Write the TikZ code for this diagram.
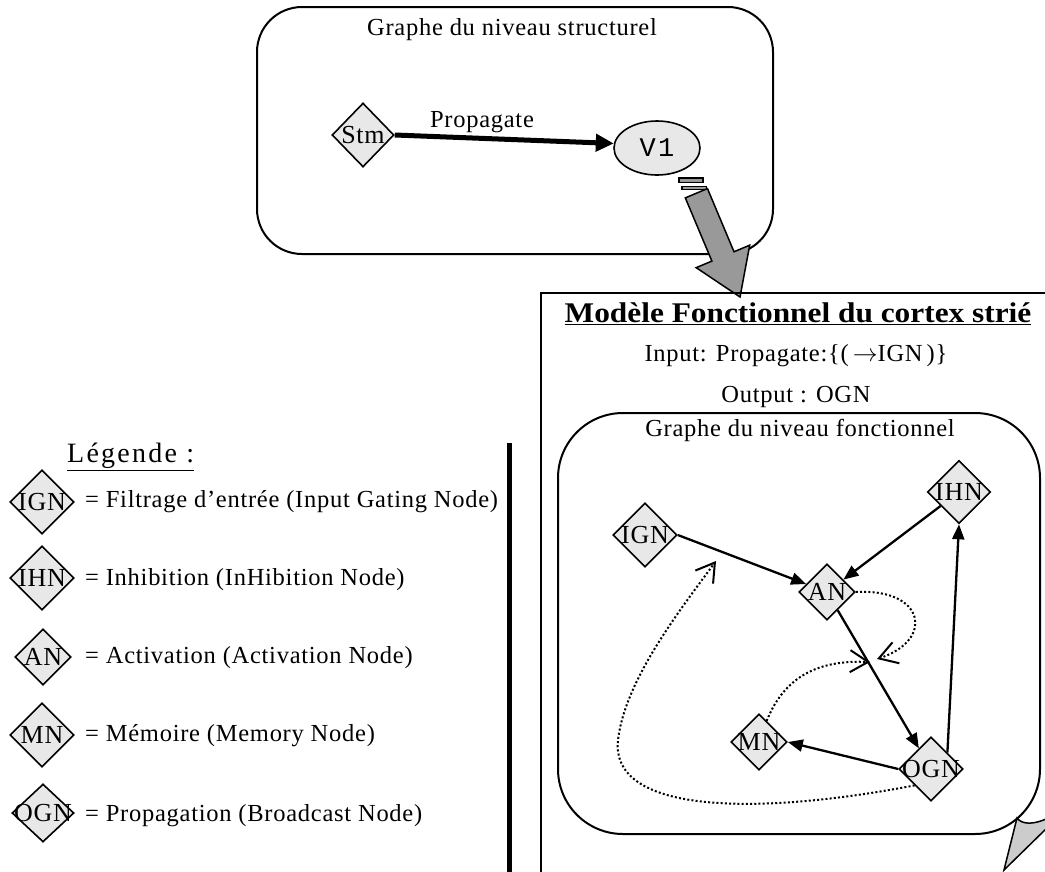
\documentclass[tikz,border=0pt]{standalone}
\usepackage{fontspec}
\usepackage{graphicx}
\setmainfont{Liberation Serif}
\newfontfamily\spc{Liberation Serif}[LetterSpace=3]
\newfontfamily\wspc{Liberation Serif}[LetterSpace=8]
\newfontfamily\monof{Liberation Mono}[LetterSpace=8]
\usetikzlibrary{shapes.geometric,arrows.meta}
\definecolor{nodefill}{RGB}{232,232,232}
\definecolor{arrowgrey}{RGB}{153,153,153}
\definecolor{tailgrey}{RGB}{204,204,204}
\newcommand\dl[1]{\makebox[0pt]{#1}}
\tikzset{
  dia/.style={diamond,draw,fill=nodefill,line width=1.6pt,inner sep=0pt,minimum size=64pt,
              font=\spc\fontsize{26}{26}\selectfont},
  lt/.style={inner sep=1pt,font=\spc\fontsize{24.5}{27}\selectfont},
  edge/.style={line width=2.3pt,-{Triangle[length=15pt,width=12pt]}},
  dots/.style={line width=2pt,dash pattern=on 2pt off 2.2pt,
               -{Straight Barb[length=18pt,width=22pt,line width=2pt]}},
  frame/.style={line width=2pt}
}
\begin{document}
\begin{tikzpicture}[x=1pt,y=-1pt]
\clip (0,0) rectangle (1045,871);
\fill[white] (0,0) rectangle (1045,871);

% ---------- top structural graph ----------
\draw[frame,rounded corners=45pt] (257,7) rectangle (773,254);
\node[lt] (t1) at (512,30) {Graphe du niveau structurel};
\node[dia,minimum width=62pt,minimum height=64pt] (Stm) at (363,135) {\dl{Stm}};
\node[ellipse,draw,fill=nodefill,line width=1.6pt,minimum width=86pt,minimum height=54pt,
      inner sep=0pt,font=\monof\fontsize{27}{28}\selectfont] (V1) at (657,148) {\dl{V1}};
\draw[line width=5pt,-{Triangle[length=18pt,width=17pt]}] (Stm.east) -- (V1.174);
\node[lt] (lbl) at (482,122) {Propagate};

% ---------- big grey arrow ----------
\begin{scope}[shift={(690,178)},x={(0.3876pt,-0.9225pt)},y={(0.9225pt,0.3876pt)}]
  \filldraw[fill=arrowgrey,line width=1.5pt] (0,-12) rectangle (5,12);
  \filldraw[fill=arrowgrey,line width=1.5pt] (7.5,-12) rectangle (14,12);
  \filldraw[fill=arrowgrey,line width=1.5pt,line join=miter]
    (16.5,-12) -- (85,-12) -- (85,-29) -- (129,0) -- (85,29) -- (85,12) -- (16.5,12) -- cycle;
\end{scope}

% ---------- functional model frame ----------
\draw[frame] (541,293) rectangle (1080,900);
\node[font=\bfseries\fontsize{28.5}{30}\selectfont] (mt) at (798,314)
  {\scalebox{1.1}[1]{\underline{Modèle Fonctionnel du cortex strié}}};
\node[lt] (inp) at (796,356) {Input: Propagate:\{(\,$\rightarrow$IGN\,)\}};
\node[lt] (outp) at (796,397) {Output : OGN};

% callout
\draw[frame,rounded corners=65pt] (558,413) rectangle (1040,834);
\filldraw[fill=tailgrey,line width=1.5pt,line join=miter]
  (1017,818) .. controls (1022,825) and (1035,825) .. (1050,817) -- (1050,825) -- (1004,870) -- cycle;
\node[lt] (t2) at (800,430) {Graphe du niveau fonctionnel};

% nodes
\node[dia] (IGN) at (645,535) {\dl{IGN}};
\node[dia,minimum size=63pt] (IHN) at (959,492) {\dl{IHN}};
\node[dia,minimum size=56pt] (AN) at (827,592) {\dl{AN}};
\node[dia,minimum size=56pt] (MN) at (759,742) {\dl{MN}};
\node[dia] (OGN) at (931,769) {\dl{OGN}};

\coordinate (d1) at (877,659);
\coordinate (d2) at (870,662);
\coordinate (d3) at (716,561);

\draw[edge] (IGN.east) -- (AN);
\draw[edge] (IHN) -- (AN);
\draw[edge] (AN) -- (OGN);
\draw[edge] (OGN.north east) -- (IHN.south);
\draw[edge] (OGN.west) -- (MN.east);

\draw[dots] (AN.east) .. controls (925,588) and (935,640) .. (d1);
\draw[dots] (MN.70) .. controls (785,675) and (820,660) .. (d2);
\draw[dots] (OGN.south west) .. controls (760,815) and (610,815) .. (618,740)
            .. controls (625,680) and (680,610) .. (d3);

% ---------- legend ----------
\node[anchor=west,inner sep=1pt,font=\wspc\fontsize{28}{30}\selectfont] (lg) at (66,457) {\underline{Légende :}};
\node[dia] (L1) at (42,502) {\dl{IGN}};
\node[dia] (L2) at (42,578) {\dl{IHN}};
\node[dia,minimum size=56pt] (L3) at (43,657) {\dl{AN}};
\node[dia] (L4) at (42,735) {\dl{MN}};
\node[dia,minimum width=62pt,minimum height=58pt] (L5) at (43,813) {\dl{OGN}};
\node[lt,anchor=west] (T1) at (84,502) {= Filtrage d’entrée (Input Gating Node)};
\node[lt,anchor=west] (T2) at (84,580) {= Inhibition (InHibition Node)};
\node[lt,anchor=west] (T3) at (84,658) {= Activation (Activation Node)};
\node[lt,anchor=west] (T4) at (84,736) {= Mémoire (Memory Node)};
\node[lt,anchor=west] (T5) at (84,816) {= Propagation (Broadcast Node)};
\draw[line width=5pt] (509,443) -- (509,880);
\end{tikzpicture}
\end{document}
